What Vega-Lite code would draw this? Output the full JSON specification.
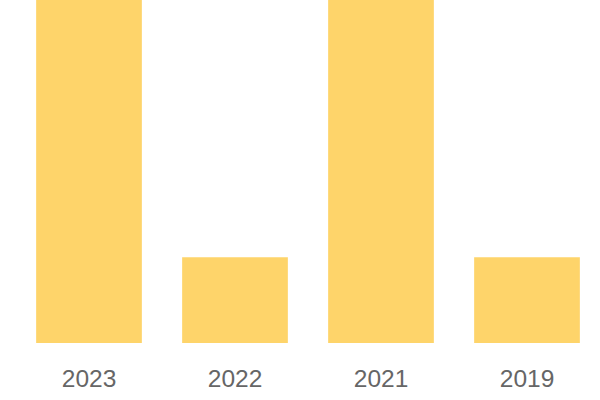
{
  "$schema": "https://vega.github.io/schema/vega-lite/v6.json",
  "autosize": "none",
  "padding": {"left": 16, "top": 0, "right": 0, "bottom": 57},
  "width": 584,
  "height": 343,
  "background": "white",
  "data": {"values": [
    {"year": "2023", "value": 4},
    {"year": "2022", "value": 1},
    {"year": "2021", "value": 4},
    {"year": "2019", "value": 1}
  ]},
  "mark": {"type": "bar", "color": "#fed46a", "clip": true},
  "encoding": {
    "x": {
      "field": "year", "type": "nominal", "sort": null,
      "scale": {"paddingInner": 0.276, "paddingOuter": 0.138},
      "axis": {"title": null, "domain": false, "ticks": false, "labelAngle": 0,
               "labelFont": "Liberation Sans", "labelFontSize": 24.5, "labelColor": "#666666",
               "labelPadding": 24}
    },
    "y": {
      "field": "value", "type": "quantitative",
      "scale": {"domain": [0, 4]},
      "axis": null
    }
  },
  "config": {"view": {"stroke": null}}
}
